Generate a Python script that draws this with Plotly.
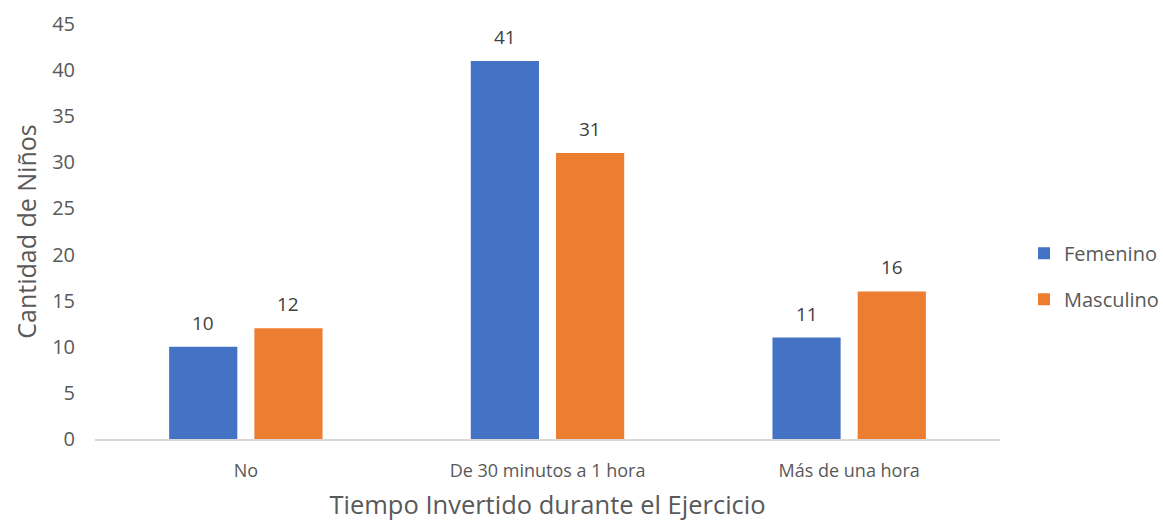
import plotly.graph_objects as go

categorias = ["No", "De 30 minutos a 1 hora", "Más de una hora"]
femenino = [10, 41, 11]
masculino = [12, 31, 16]
series = [("Femenino", femenino, "#4472C4"), ("Masculino", masculino, "#ED7D31")]

FONT = "Open Sans"
fig = go.Figure()
for i, (nombre, valores, color) in enumerate(series):
    fig.add_trace(go.Bar(
        name=nombre, x=categorias, y=valores, marker_color=color,
        marker_line_width=0, legendgroup=nombre,
    ))

# value labels above each bar, offset to the bar's slot in the group
annotations = []
for i, (nombre, valores, color) in enumerate(series):
    shift = -42.5 if i == 0 else 42.5
    for c, v in zip(categorias, valores):
        annotations.append(dict(
            x=c, y=v, text=str(v), showarrow=False, xshift=shift, yshift=24,
            yanchor="middle", font=dict(family=FONT, size=19, color="#404040"),
        ))

fig.update_layout(
    width=1163, height=524,
    margin=dict(l=95, r=163, t=24, b=85),
    paper_bgcolor="white", plot_bgcolor="white",
    barmode="group", bargap=0.435, bargroupgap=0.2,
    annotations=annotations,
    font=dict(family=FONT, color="#595959"),
    legend=dict(
        xref="container", yref="container",
        x=0.8805, y=0.473, xanchor="left", yanchor="middle",
        font=dict(family=FONT, size=20, color="#595959"),
        tracegroupgap=17, itemwidth=30,
    ),
    xaxis=dict(
        showline=True, linecolor="#D9D9D9", linewidth=1.5,
        showgrid=False, ticks="", ticklabelstandoff=15, automargin=False,
        tickfont=dict(family=FONT, size=18, color="#595959"),
        title=dict(text="Tiempo Invertido durante el Ejercicio",
                   font=dict(family=FONT, size=25.5, color="#595959")),
    ),
    yaxis=dict(
        range=[0, 45], dtick=5, showgrid=False, zeroline=False, showline=False,
        ticks="", ticklabelstandoff=19, automargin="left",
        tickfont=dict(family=FONT, size=20, color="#595959"),
        title=dict(text="Cantidad de Niños",
                   font=dict(family=FONT, size=25, color="#595959"), standoff=8),
    ),
)

fig.write_html("out.html")
